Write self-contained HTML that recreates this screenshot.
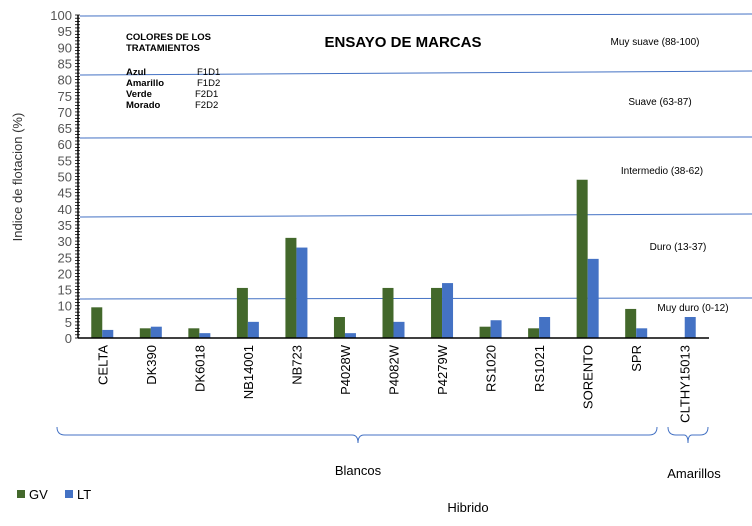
<!DOCTYPE html>
<html><head><meta charset="utf-8"><style>
body{margin:0;background:#fff;font-family:"Liberation Sans",Arial,sans-serif}
svg text{font-family:"Liberation Sans",Arial,sans-serif}
</style></head><body>
<svg id="c" width="752" height="521" viewBox="0 0 752 521">
<g id="bands"></g>
<g id="bars"></g>
<g id="axes"></g>
<text x="403" y="47" font-size="15" font-weight="bold" text-anchor="middle">ENSAYO  DE MARCAS</text>
<g font-size="9.5" font-weight="bold">
<text x="126" y="40">COLORES DE LOS</text><text x="126" y="51">TRATAMIENTOS</text>
<text x="126" y="75">Azul</text><text x="197" y="75" font-weight="normal">F1D1</text>
<text x="126" y="86">Amarillo</text><text x="197" y="86" font-weight="normal">F1D2</text>
<text x="126" y="97">Verde</text><text x="195" y="97" font-weight="normal">F2D1</text>
<text x="126" y="108">Morado</text><text x="195" y="108" font-weight="normal">F2D2</text>
</g>
<text transform="translate(22,177) rotate(-90)" font-size="13" fill="#333" text-anchor="middle">Indice de flotacion (%)</text>
<path d="M57 427 q0 8 8 8 H352 q6 0 6 8 q0 -8 6 -8 H649 q8 0 8 -8" fill="none" stroke="#4472c4" stroke-width="1"/>
<path d="M668 427 q0 8 8 8 H684 q4 0 4 8 q0 -8 4 -8 H700 q8 0 8 -8" fill="none" stroke="#4472c4" stroke-width="1"/>
<text x="358" y="475" font-size="13" text-anchor="middle">Blancos</text>
<text x="694" y="478" font-size="13" text-anchor="middle">Amarillos</text>
<text x="468" y="512" font-size="13" text-anchor="middle">Hibrido</text>
<g>
<rect x="17" y="490" width="8" height="8" fill="#43682b"/>
<text x="29" y="499" font-size="13">GV</text>
<rect x="65" y="490" width="8" height="8" fill="#4472c4"/>
<text x="77" y="499" font-size="13">LT</text>
</g>
</svg>
<script>
const categories=["CELTA","DK390","DK6018","NB14001","NB723","P4028W","P4082W","P4279W","RS1020","RS1021","SORENTO","SPR","CLTHY15013"];
const gv=[9.5,3,3,15.5,31,6.5,15.5,15.5,3.5,3,49,9,null];
const lt=[2.5,3.5,1.5,5,28,1.5,5,17,5.5,6.5,24.5,3,6.5];
const yTicks=[0,5,10,15,20,25,30,35,40,45,50,55,60,65,70,75,80,85,90,95,100];
const bandLabels=["Muy suave (88-100)","Suave (63-87)","Intermedio (38-62)","Duro (13-37)","Muy duro (0-12)"];
const NS="http://www.w3.org/2000/svg";
const x0=78,x1=709,y0=338,y100=15;
const y=v=>y0-(v/100)*(y0-y100);
const step=(x1-x0)/categories.length;
const xc=i=>x0+step*(i+0.5);
function mk(t,a,p){const e=document.createElementNS(NS,t);for(const k in a)e.setAttribute(k,a[k]);p.appendChild(e);return e;}
const bands=document.getElementById('bands');
[[16,14],[75,71],[138,137],[217,214],[299,298]].forEach((l,i)=>{
 const ln=mk('line',{x1:80,y1:l[0],x2:752,y2:l[1],stroke:'#4472c4','stroke-width':1},bands);
 
 
});
[[655,45],[660,105],[662,174],[678,250],[693,311]].forEach((p,i)=>{
 const t=mk('text',{x:p[0],y:p[1],'font-size':10,'text-anchor':'middle'},bands);t.textContent=bandLabels[i];
 
 
});
const bars=document.getElementById('bars');
const bw=11;
categories.forEach((c,i)=>{
 if(gv[i]!=null){const r=mk('rect',{x:xc(i)-bw,y:y(gv[i]),width:bw,height:y0-y(gv[i]),fill:'#43682b'},bars);
 
 }
 if(lt[i]!=null){const r=mk('rect',{x:xc(i),y:y(lt[i]),width:bw,height:y0-y(lt[i]),fill:'#4472c4'},bars);
 
 }
 const t=mk('text',{transform:`translate(${xc(i)+5},345) rotate(-90)`,'font-size':13,'text-anchor':'end'},bars);
 t.textContent=c;
 
 
});
const ax=document.getElementById('axes');
const ya=mk('line',{x1:x0,y1:y100,x2:x0,y2:y0,stroke:'#000','stroke-width':1.5},ax);


const xa=mk('line',{x1:x0,y1:y0,x2:x1,y2:y0,stroke:'#000','stroke-width':1.5},ax);


for(let v=0;v<=100;v++){mk('line',{x1:x0-3,y1:y(v),x2:x0+2,y2:y(v),stroke:'#000','stroke-width':0.8},ax);}
yTicks.forEach(v=>{const t=mk('text',{x:x0-6,y:y(v)+5,'font-size':13,fill:'#555','text-anchor':'end'},ax);t.textContent=v;
 
 });
</script>
</body></html>
